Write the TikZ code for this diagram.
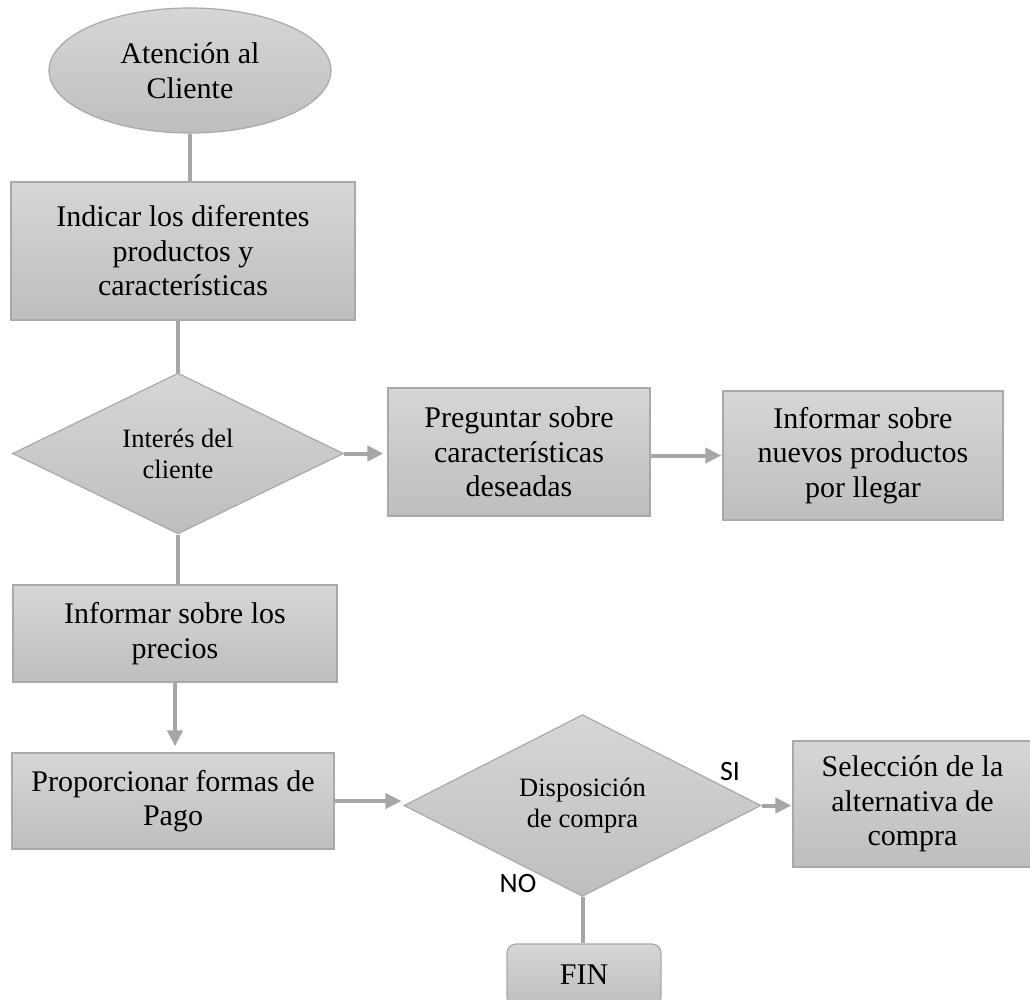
\documentclass[tikz,border=0pt]{standalone}
\usepackage{fontspec}
\setmainfont{Liberation Serif}
\newfontfamily\labelfont{Carlito}
\usetikzlibrary{shapes.geometric,arrows.meta}

\definecolor{boxtop}{HTML}{D6D6D6}
\definecolor{boxbot}{HTML}{BEBEBE}
\definecolor{boxline}{HTML}{A9A9A9}
\definecolor{linkgray}{HTML}{A6A6A6}

\tikzset{
  shaded/.style={draw=boxline, line width=1.2pt, top color=boxtop, bottom color=boxbot,
                 inner sep=0pt, align=center, font=\fontsize{30}{34.5}\selectfont},
  stepbox/.style={shaded, rectangle, minimum width=#1},
  decision/.style={shaded, diamond, font=\fontsize{26.5}{31}\selectfont},
  conn/.style={draw=linkgray, line width=4pt},
  arr/.style={conn, -{Triangle[length=16pt,width=15pt]}},
  answer/.style={font=\labelfont\fontsize{28}{30}\selectfont, inner sep=0pt}
}

\begin{document}
\begin{tikzpicture}[x=1pt,y=-1pt]
  \useasboundingbox (0,0) rectangle (1030,999);

  % start
  \node[shaded, ellipse, minimum width=282pt, minimum height=125pt] (ini) at (190,70.5)
       {Atención al\\Cliente};

  % main column
  \node[stepbox=344pt, minimum height=138pt] (prod) at (183,251)
       {Indicar los diferentes\\productos y\\características};
  \node[decision, minimum width=331pt, minimum height=157pt] (interes) at (178,453.5)
       {Interés del\\cliente};
  \node[stepbox=262pt, minimum height=128pt] (preg) at (519,452)
       {Preguntar sobre\\características\\deseadas};
  \node[stepbox=280pt, minimum height=129pt] (nuevos) at (863,455.5)
       {Informar sobre\\nuevos productos\\por llegar};
  \node[stepbox=324pt, minimum height=97pt] (precios) at (175,633.5)
       {Informar sobre los\\precios};
  \node[stepbox=322pt, minimum height=96pt] (pago) at (173,801)
       {Proporcionar formas de\\Pago};
  \node[decision, minimum width=357pt, minimum height=179pt] (compra) at (582.5,805.5)
       {Disposición\\de compra};
  \node[stepbox=239pt, minimum height=126pt] (selec) at (912.5,804)
       {Selección de la\\alternativa de\\compra};
  \node[shaded, rectangle, rounded corners=9pt, minimum width=154pt, minimum height=62pt]
       (fin) at (584,975) {FIN};

  % answers of the purchase decision
  \node[answer] (si) at (730,771) {SI};
  \node[answer] (no) at (518,883) {NO};

  % connectors
  \draw[conn] (ini.south) -- (ini.south |- prod.north);
  \draw[conn] (interes.north |- prod.south) -- (interes.north);
  \draw[conn] (interes.south) -- (interes.south |- precios.north);
  \draw[arr, shorten >=4pt] (interes.east) -- (interes.east -| preg.west);
  \draw[arr, shorten >=1pt] (nuevos.west -| preg.east) -- (nuevos.west);
  \draw[arr, shorten >=6pt] (precios.south) -- (precios.south |- pago.north);
  \draw[arr, shorten >=2pt] (pago.east) -- (pago.east -| compra.west);
  \draw[arr, shorten >=1pt] (compra.east) -- (compra.east -| selec.west);
  \draw[conn] (compra.south) -- (compra.south |- fin.north);
\end{tikzpicture}
\end{document}
